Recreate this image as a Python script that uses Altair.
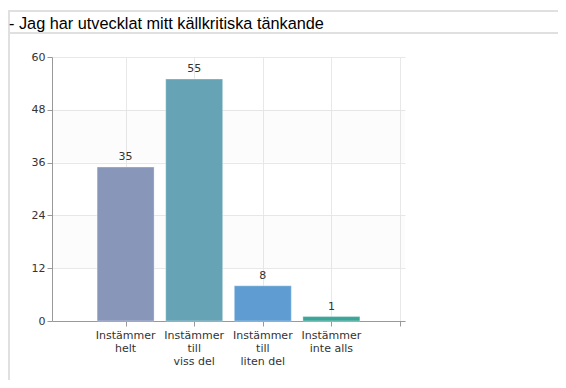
import altair as alt
import pandas as pd

title_text = "- Jag har utvecklat mitt källkritiska tänkande"
categories = ["Instämmer\nhelt", "Instämmer\ntill\nviss del", "Instämmer\ntill\nliten del", "Instämmer\ninte alls"]
positions = [1, 2, 3, 4]
counts = [35, 55, 8, 1]
colors = ["#8896B9", "#66A3B5", "#5E9CD2", "#3BA597"]
y_ticks = [0, 12, 24, 36, 48, 60]
band_lo = [12, 36]
band_hi = [24, 48]

W, H = 353, 264
FONT = "DejaVu Sans"

df = pd.DataFrame({"cat": categories, "pos": positions, "count": counts, "color": colors})
bands = pd.DataFrame({"lo": band_lo, "hi": band_hi})

xscale = alt.Scale(domain=[0, 5], nice=False, zero=False)
yscale = alt.Scale(domain=[0, 60], nice=False)

band_layer = alt.Chart(bands).mark_rect(color="#000000", opacity=0.012).encode(
    x=alt.value(0), x2=alt.value(W),
    y=alt.Y("lo:Q", scale=yscale), y2="hi:Q",
)

bars = alt.Chart(df).mark_bar(size=57, stroke="#ffffff", strokeOpacity=0.35, strokeWidth=1).encode(
    x=alt.X("pos:Q", scale=xscale, title=None,
            axis=alt.Axis(values=[1, 2, 3, 4, 5], labels=False, grid=True, gridColor="#e8e8e8",
                          tickSize=5, tickColor="#999999", domainColor="#999999")),
    y=alt.Y("count:Q", scale=yscale, title=None,
            axis=alt.Axis(values=y_ticks, grid=True, gridColor="#e8e8e8", tickSize=5,
                          tickColor="#999999", domainColor="#999999", labelPadding=2,
                          labelFont=FONT, labelFontSize=11, labelColor="#333333")),
    color=alt.Color("color:N", scale=None),
)

value_text = alt.Chart(df).mark_text(baseline="bottom", dy=-5, font=FONT, fontSize=11, color="#333333").encode(
    x=alt.X("pos:Q", scale=xscale), y=alt.Y("count:Q", scale=yscale), text="count:Q"
)

xlabels = alt.Chart(df).mark_text(baseline="top", lineBreak="\n", lineHeight=13, font=FONT,
                                  fontSize=11, color="#333333").encode(
    x=alt.X("pos:Q", scale=xscale), y=alt.value(H + 9), text="cat:N"
)

one = alt.Data(values=[{}])
frame_top = alt.Chart(one).mark_rule(color="#e0e0e0", strokeWidth=2).encode(
    x=alt.value(-44), x2=alt.value(520), y=alt.value(-46))
frame_sep = alt.Chart(one).mark_rule(color="#e0e0e0", strokeWidth=2).encode(
    x=alt.value(-44), x2=alt.value(520), y=alt.value(-24))
frame_left = alt.Chart(one).mark_rule(color="#e0e0e0", strokeWidth=2).encode(
    x=alt.value(-43), y=alt.value(-46), y2=alt.value(H + 60))
title = alt.Chart(one).mark_text(align="left", baseline="alphabetic", font="Liberation Sans", fontSize=16.3,
                                 color="#000000").encode(
    x=alt.value(-43), y=alt.value(-28.5), text=alt.value(title_text))

chart = alt.layer(band_layer, bars, value_text, xlabels, frame_top, frame_sep, frame_left, title).properties(
    width=W, height=H,
    autosize=alt.AutoSizeParams(type="none"),
    padding={"left": 44, "top": 49, "right": 153, "bottom": 59},
).configure_view(stroke=None)

chart.save("out.html", embed_options={"renderer": "svg", "actions": False})
